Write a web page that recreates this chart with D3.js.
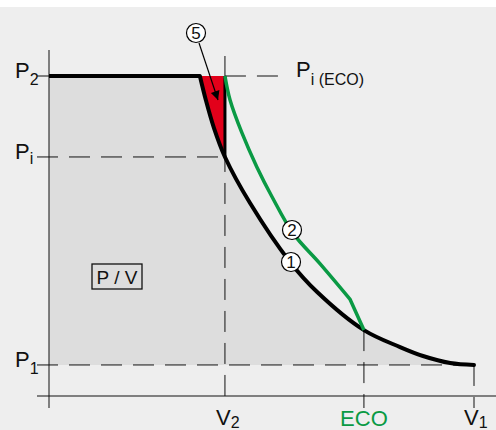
<!DOCTYPE html>
<html>
<head>
<meta charset="utf-8">
<script src="https://cdn.jsdelivr.net/npm/d3@7"></script>
<style>
  body { margin: 0; background: #fff; }
  text { font-family: "Liberation Sans", Arial, sans-serif; fill: #111; }
</style>
</head>
<body>
<div id="chart"></div>
<script>
// pressure levels (P axis) and volume marks (V axis), in chart units
const pressureNames = ["P2", "Pi", "P1"];
const pressureValues = [10, 7.47, 0.97];
const volumeNames = ["V2", "ECO", "V1"];
const volumeValues = [4.14, 7.41, 10];

// curve 1 (black): standard compression
const curve1V = [3.55, 3.69, 3.88, 4.14, 4.73, 5.67, 6.31, 7.41, 8.26, 8.8, 9.44, 10];
const curve1P = [10, 9.25, 8.38, 7.47, 6.03, 4.19, 3.25, 2.06, 1.53, 1.25, 1.03, 0.97];

// curve 2 (green): ECO compression
const curve2V = [4.14, 4.26, 4.54, 4.89, 5.25, 5.74, 6.38, 7.08];
const curve2P = [10, 9.25, 8.22, 7.16, 6.22, 5.09, 4.13, 3.03];

const W = 496, H = 430;
const svg = d3.select("#chart").append("svg")
    .attr("width", W)
    .attr("height", H);

const x = d3.scaleLinear().domain([0, 10]).range([49, 474]);
const y = d3.scaleLinear().domain([0, 10]).range([396, 76]);

const [p2, pi, p1] = pressureValues;
const [v2, eco, v1] = volumeValues;
const dash = "21,11";
const green = "#0a9a44";
const red = "#e2001a";

// background
svg.append("rect").attr("x", 0).attr("y", 7).attr("width", W).attr("height", H - 7)
    .attr("fill", "#eeeeee");

const c1 = curve1V.map((v, i) => [v, curve1P[i]]);
const c2 = curve2V.map((v, i) => [v, curve2P[i]]);
const line = d3.line().x(d => x(d[0])).y(d => y(d[1])).curve(d3.curveCatmullRom.alpha(0.5));

// gray work area under curve 1
const c1Path = line(c1);
svg.append("path")
    .attr("d", `M${x(0)},${y(p2)}L` + c1Path.slice(1) + `L${x(0)},${y(p1)}Z`)
    .attr("fill", "#dddddd");

// red gain area between curve 1 and V2
const redPts = c1.slice(0, 4);
svg.append("path")
    .attr("d", line(redPts) + `L${x(v2)},${y(p2)}Z`)
    .attr("fill", red);

// dashed guide lines
const g = svg.append("g").attr("stroke", "#111").attr("stroke-width", 1).attr("fill", "none");
g.append("line").attr("x1", x(0)).attr("x2", x(v2)).attr("y1", y(pi)).attr("y2", y(pi))
    .attr("stroke-dasharray", dash).attr("stroke-dashoffset", 12);
g.append("line").attr("x1", x(0)).attr("x2", x(v1)).attr("y1", y(p1)).attr("y2", y(p1))
    .attr("stroke-dasharray", dash).attr("stroke-dashoffset", 12);
g.append("line").attr("x1", x(v2)).attr("x2", 279).attr("y1", y(p2)).attr("y2", y(p2))
    .attr("stroke-dasharray", dash);
g.append("line").attr("x1", x(v2)).attr("x2", x(v2)).attr("y1", y(pi)).attr("y2", y(0))
    .attr("stroke-dasharray", dash).attr("stroke-dashoffset", 6);
g.append("line").attr("x1", x(v2)).attr("x2", x(v2)).attr("y1", 56).attr("y2", y(p2));
g.append("line").attr("x1", x(eco)).attr("x2", x(eco)).attr("y1", y(2.06)).attr("y2", 408)
    .attr("stroke-dasharray", dash);
g.append("line").attr("x1", x(v1)).attr("x2", x(v1)).attr("y1", y(p1)).attr("y2", 408)
    .attr("stroke-dasharray", dash);

// axes
g.append("line").attr("x1", x(0)).attr("x2", x(0)).attr("y1", 50).attr("y2", 408);
g.append("line").attr("x1", 37).attr("x2", W).attr("y1", y(0)).attr("y2", y(0));
pressureValues.forEach(p => {
    g.append("line").attr("x1", 37).attr("x2", x(0)).attr("y1", y(p)).attr("y2", y(p));
});

// thick black: P2 line, curve 1, V2 edge of red area
svg.append("line").attr("x1", x(0)).attr("x2", x(curve1V[0])).attr("y1", y(p2)).attr("y2", y(p2))
    .attr("stroke", "#000").attr("stroke-width", 4);
svg.append("line").attr("x1", x(v2)).attr("x2", x(v2)).attr("y1", y(p2)).attr("y2", y(pi))
    .attr("stroke", "#000").attr("stroke-width", 3);
svg.append("path").attr("d", c1Path)
    .attr("fill", "none").attr("stroke", "#000").attr("stroke-width", 4)
    .attr("stroke-linecap", "round");

// green ECO curve: smooth part, then straight into the ECO point
svg.append("path").attr("d", line(c2) + `L${x(eco)},${y(2.06)}`)
    .attr("fill", "none").attr("stroke", green).attr("stroke-width", 3.5)
    .attr("stroke-linejoin", "round");

// arrow from marker 5 into the red area
svg.append("defs").append("marker")
    .attr("id", "arr").attr("viewBox", "0 0 10 10").attr("refX", 10).attr("refY", 5)
    .attr("markerWidth", 13).attr("markerHeight", 9).attr("markerUnits", "userSpaceOnUse")
    .attr("orient", "auto")
    .append("path").attr("d", "M0,0L10,5L0,10Z").attr("fill", "#000");
svg.append("line").attr("x1", 199).attr("y1", 43).attr("x2", 218).attr("y2", 100)
    .attr("stroke", "#000").attr("stroke-width", 1.2).attr("marker-end", "url(#arr)");

// circled numbers
const markers = [["5", 196, 33], ["2", 292, 230], ["1", 291, 262]];
markers.forEach(([t, cx, cy]) => {
    svg.append("circle").attr("cx", cx).attr("cy", cy).attr("r", 9.5)
        .attr("fill", "#fff").attr("stroke", "#000").attr("stroke-width", 1.2);
    svg.append("text").attr("x", cx).attr("y", cy + 6).attr("text-anchor", "middle")
        .attr("font-size", 17).text(t);
});

// P/V box
svg.append("rect").attr("x", 92).attr("y", 264).attr("width", 50).attr("height", 25)
    .attr("fill", "none").attr("stroke", "#111").attr("stroke-width", 1.3);
svg.append("text").attr("x", 117).attr("y", 283.5).attr("text-anchor", "middle")
    .attr("font-size", 19).text("P / V");

// labels with subscripts
function subLabel(px, py, main, sub, color, dy) {
    const t = svg.append("text").attr("x", px).attr("y", py).attr("font-size", 22)
        .style("fill", color || "#111");
    t.append("tspan").text(main);
    if (sub) t.append("tspan").attr("dy", dy).attr("font-size", 16).text(sub);
}
const pSubs = ["2", "i", "1"];
pressureValues.forEach((p, i) => {
    subLabel(15, y(p) + 2, "P", pSubs[i], null, i === 1 ? 5 : 7);
});
subLabel(296, y(p2) + 1, "P", "i (ECO)", null, 8);
subLabel(x(v2) - 9, 425, "V", "2", null, 3);
subLabel(x(v1) - 10, 425, "V", "1", null, 3);
svg.append("text").attr("x", x(eco)).attr("y", 426).attr("text-anchor", "middle")
    .attr("font-size", 22).style("fill", green).text(volumeNames[1]);
</script>
</body>
</html>
